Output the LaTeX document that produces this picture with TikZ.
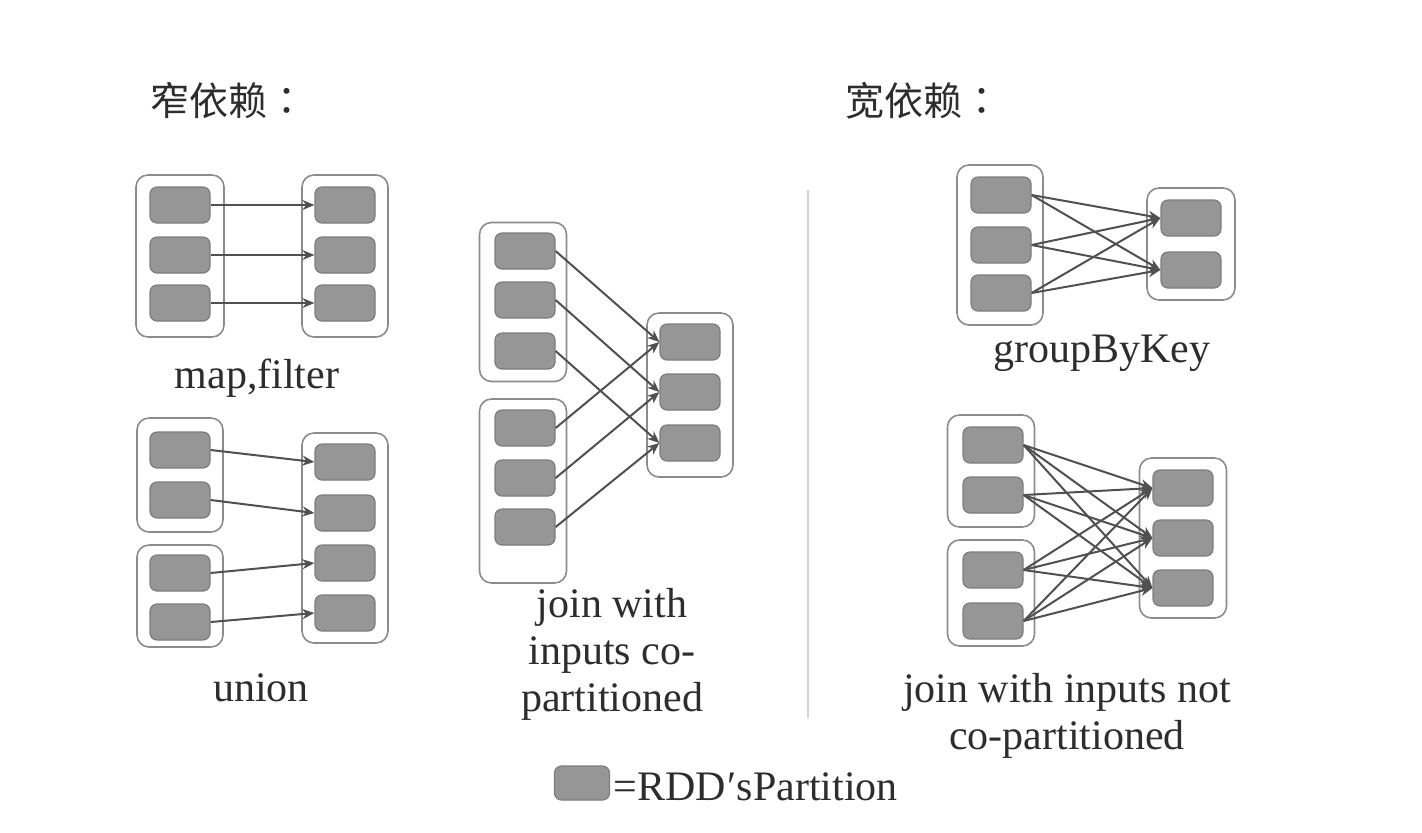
\documentclass[tikz,border=0pt]{standalone}
\usepackage{fontspec}
\setmainfont{Liberation Serif}[Ligatures=NoCommon]
\newfontfamily\cjk{Noto Sans CJK TC}
\usetikzlibrary{arrows.meta}
\definecolor{partfill}{RGB}{150,150,150}
\definecolor{partedge}{RGB}{125,125,125}
\definecolor{boxedge}{RGB}{140,140,140}
\definecolor{arrowcol}{RGB}{80,80,80}
\definecolor{textcol}{RGB}{45,45,45}
\tikzset{
  part/.style={rectangle, rounded corners=3.5pt, fill=partfill, draw=partedge, line width=0.6pt,
    minimum width=30pt, minimum height=18pt, inner sep=0pt},
  rddbox/.style={rectangle, rounded corners=6pt, draw=boxedge, line width=0.8pt, fill=white,
    inner sep=0pt},
  dep/.style={draw=arrowcol, line width=1pt, -{Stealth[length=6pt,width=5pt]}},
  lbl/.style={text=textcol, font=\fontsize{21}{23.5}\selectfont, align=center, inner sep=0pt},
  ttl/.style={text=textcol, font=\cjk\fontsize{19.5}{22}\selectfont, anchor=west, inner sep=0pt},
}
\begin{document}
\begin{tikzpicture}[x=0.5pt,y=-0.5pt]
\useasboundingbox (0,0) rectangle (1422,832);
% separator
\draw[draw=black!18, line width=0.6pt] (808,190) -- (808,718);
% titles
\node[ttl] (t1) at (150,101) {窄依赖：};
\node[ttl] (t2) at (845,101) {宽依赖：};

% ---------- map, filter ----------
\node[rddbox, minimum width=44pt, minimum height=81pt] (mfL) at (180,256) {};
\node[rddbox, minimum width=43pt, minimum height=81pt] (mfR) at (345,256) {};
\foreach \i/\y in {1/205,2/255,3/303}{
  \node[part] (mfl\i) at (180,\y) {};
  \node[part] (mfr\i) at (345,\y) {};
}
\foreach \i in {1,2,3}{ \draw[dep] (mfl\i.east) -- (mfr\i.west); }
\node[lbl] (lmf) at (257,378) {map,filter};

% ---------- union ----------
\node[rddbox, minimum width=43pt, minimum height=57pt] (unL1) at (180,475) {};
\node[rddbox, minimum width=43pt, minimum height=51pt] (unL2) at (180,596) {};
\node[rddbox, minimum width=43pt, minimum height=105pt] (unR) at (345,538) {};
\foreach \i/\y in {1/450,2/500,3/573,4/622}{ \node[part] (unl\i) at (180,\y) {}; }
\foreach \i/\y in {1/462,2/513,3/563,4/613}{ \node[part] (unr\i) at (345,\y) {}; }
\foreach \i in {1,2,3,4}{ \draw[dep] (unl\i.east) -- (unr\i.west); }
\node[lbl] (lun) at (261,688) {union};

% ---------- join with inputs co-partitioned ----------
\node[rddbox, minimum width=43.5pt, minimum height=79.5pt] (jcL1) at (523,302) {};
\node[rddbox, minimum width=43.5pt, minimum height=92pt] (jcL2) at (523,491) {};
\node[rddbox, minimum width=43pt, minimum height=82pt] (jcR) at (690,395) {};
\foreach \i/\y in {1/251,2/300,3/351,4/428,5/478,6/527}{ \node[part] (jcl\i) at (525,\y) {}; }
\foreach \i/\y in {1/342,2/392,3/443}{ \node[part] (jcr\i) at (690,\y) {}; }
\draw[dep] (jcl1.east) -- (jcr1.west);
\draw[dep] (jcl2.east) -- (jcr2.west);
\draw[dep] (jcl3.east) -- (jcr3.west);
\draw[dep] (jcl4.east) -- (jcr1.west);
\draw[dep] (jcl5.east) -- (jcr2.west);
\draw[dep] (jcl6.east) -- (jcr3.west);
\node[lbl] (ljc) at (612,654) {join with\\inputs co-\\partitioned};

% ---------- groupByKey ----------
\node[rddbox, minimum width=43pt, minimum height=80pt] (gbL) at (1000,245) {};
\node[rddbox, minimum width=44pt, minimum height=56pt] (gbR) at (1191,244) {};
\foreach \i/\y in {1/195,2/245,3/293}{ \node[part] (gbl\i) at (1001,\y) {}; }
\foreach \i/\y in {1/218,2/270}{ \node[part] (gbr\i) at (1191,\y) {}; }
\foreach \i in {1,2,3}{ \foreach \j in {1,2}{ \draw[dep] (gbl\i.east) -- (gbr\j.west); } }
\node[lbl] (lgb) at (1102,353) {groupByKey};

% ---------- join with inputs not co-partitioned ----------
\node[rddbox, minimum width=43.5pt, minimum height=56pt] (jnL1) at (991,471) {};
\node[rddbox, minimum width=43.5pt, minimum height=53pt] (jnL2) at (991,593) {};
\node[rddbox, minimum width=43.5pt, minimum height=80pt] (jnR) at (1183,538) {};
\foreach \i/\y in {1/445,2/495,3/570,4/621}{ \node[part] (jnl\i) at (993,\y) {}; }
\foreach \i/\y in {1/488,2/538,3/588}{ \node[part] (jnr\i) at (1183,\y) {}; }
\foreach \i in {1,2,3,4}{ \foreach \j in {1,2,3}{ \draw[dep] (jnl\i.east) -- (jnr\j.west); } }
\node[lbl] (ljn) at (1067,716) {join with inputs not\\co-partitioned};

% ---------- legend ----------
\node[part, minimum width=27.5pt, minimum height=17pt] (leg) at (582,783) {};
\node[lbl, anchor=west] (legt) at (613,787) {=RDD\kern1pt′sPartition};
\end{tikzpicture}
\end{document}
